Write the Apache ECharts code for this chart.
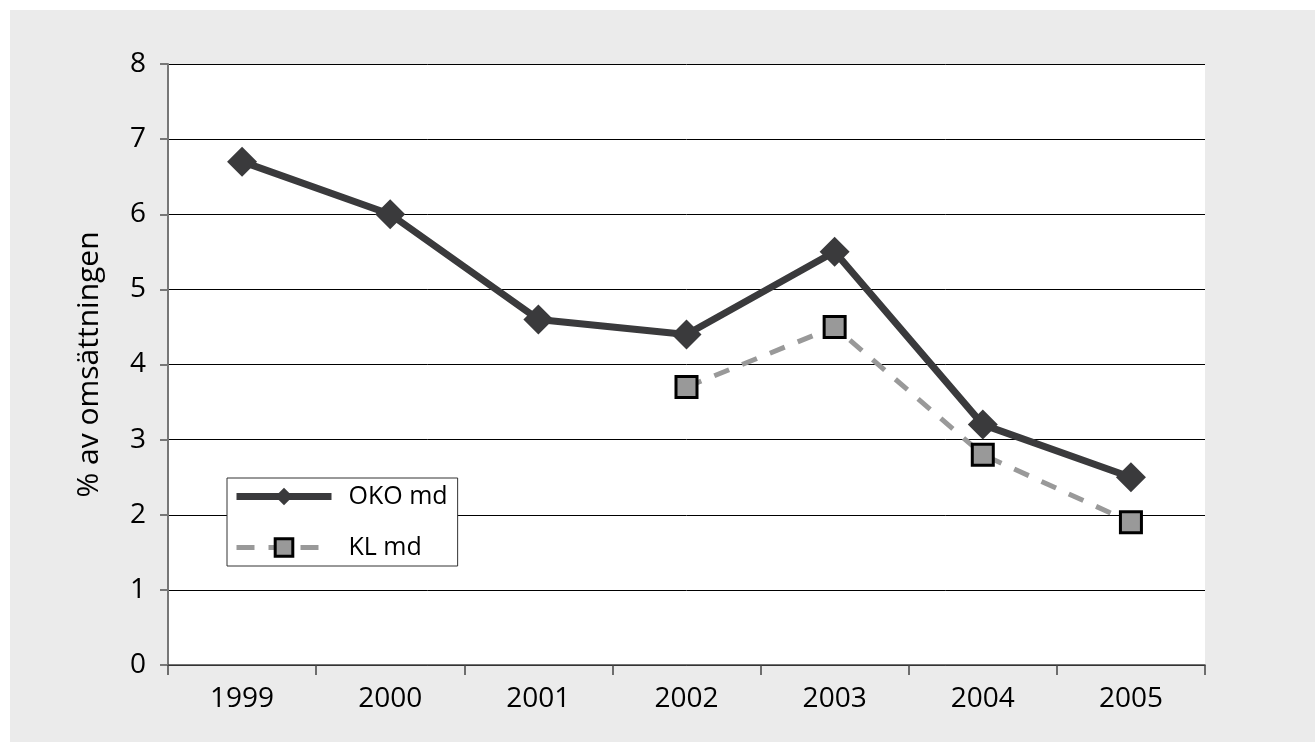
<!DOCTYPE html>
<html>
<head>
<meta charset="utf-8">
<script src="https://cdn.jsdelivr.net/npm/echarts@6/dist/echarts.min.js"></script>
<style>
html,body{margin:0;padding:0;background:#fff;width:1315px;height:742px;overflow:hidden;}
#c{position:absolute;left:10px;top:10px;width:1305px;height:732px;}
</style>
</head>
<body>
<div id="c"></div>
<script>
const years = ['1999','2000','2001','2002','2003','2004','2005'];
const okoMd = [6.7, 6.0, 4.6, 4.4, 5.5, 3.2, 2.5];
const klMd = [null, null, null, 3.7, 4.5, 2.8, 1.9];
const yTicks = [0,1,2,3,4,5,6,7,8];
const seriesNames = ['OKO md', 'KL md'];

const chart = echarts.init(document.getElementById('c'));
const font = '"Open Sans", "Noto Sans", sans-serif';
chart.setOption({
  backgroundColor: '#ebebeb',
  animation: false,
  textStyle: {fontFamily: font},
  grid: {left: 158, right: 110, top: 54, bottom: 77, show: true, backgroundColor: '#ffffff', borderWidth: 0},
  legend: {
    left: 217, top: 468, width: 231, height: 85,
    orient: 'vertical',
    backgroundColor: '#ffffff',
    borderColor: '#333',
    borderWidth: 1,
    borderRadius: 0,
    padding: [6, 10, 6, 6],
    itemWidth: 95, itemHeight: 22, itemGap: 26,
    textStyle: {fontSize: 25, color: '#000', fontFamily: font, padding: [0, 0, 0, 12]},
    data: [
      {name: seriesNames[0], lineStyle: {width: 7, color: '#3a3a3c'}},
      {name: seriesNames[1], lineStyle: {width: 5, color: '#999999', type: [18, 14]},
       itemStyle: {color: '#999999', borderColor: '#000', borderWidth: 3}}
    ]
  },
  xAxis: {
    type: 'category',
    data: years,
    boundaryGap: true,
    axisLine: {show: true, lineStyle: {color: '#444', width: 1.5}},
    axisTick: {show: true, length: 10, lineStyle: {color: '#444', width: 1.5}},
    axisLabel: {fontSize: 28, color: '#000', margin: 20},
    splitLine: {show: false}
  },
  yAxis: {
    type: 'value',
    min: 0, max: 8, interval: 1,
    name: '% av omsättningen',
    nameLocation: 'middle',
    nameGap: 64,
    nameTextStyle: {fontSize: 30, color: '#000'},
    axisLine: {show: true, lineStyle: {color: '#777', width: 2}},
    axisTick: {show: true, length: 8, lineStyle: {color: '#777', width: 2}},
    axisLabel: {fontSize: 28, color: '#000', margin: 22, formatter: v => yTicks.includes(v) ? String(v) : ''},
    splitLine: {show: true, lineStyle: {color: '#000', width: 1}}
  },
  series: [
    {
      name: seriesNames[0], type: 'line', data: okoMd,
      symbol: 'diamond', symbolSize: [30, 30],
      lineStyle: {color: '#3a3a3c', width: 7},
      itemStyle: {color: '#3a3a3c', borderWidth: 0},
      z: 3
    },
    {
      name: seriesNames[1], type: 'line', data: klMd,
      symbol: 'rect', symbolSize: 21,
      lineStyle: {color: '#999999', width: 5, type: [16, 14]},
      itemStyle: {color: '#999999', borderColor: '#000', borderWidth: 3},
      z: 4
    }
  ]
});
</script>
</body>
</html>
